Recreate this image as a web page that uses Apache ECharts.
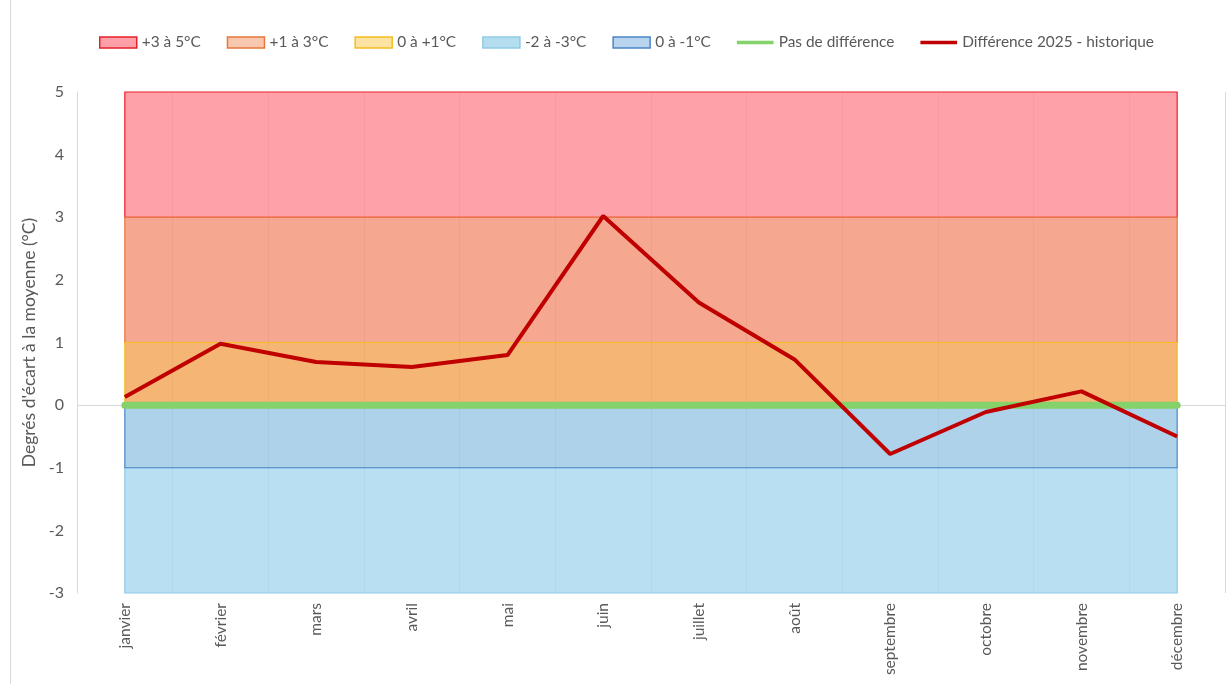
<!DOCTYPE html>
<html>
<head>
<meta charset="utf-8">
<script src="https://cdn.jsdelivr.net/npm/echarts@6/dist/echarts.min.js"></script>
<style>
  html, body { margin: 0; padding: 0; background: #fff; }
  #chart { width: 1231px; height: 684px; }
</style>
</head>
<body>
<div id="chart"></div>
<script>
var months = ["janvier", "février", "mars", "avril", "mai", "juin", "juillet", "août", "septembre", "octobre", "novembre", "décembre"];
var diff2025 = [0.13, 0.98, 0.69, 0.61, 0.8, 3.02, 1.64, 0.73, -0.78, -0.11, 0.22, -0.5];
var noDiff = [0, 0, 0, 0, 0, 0, 0, 0, 0, 0, 0, 0];

// bands (drawn in this order)
var bandNames = ["+3 à 5°C", "+1 à 3°C", "0 à +1°C", "-2 à -3°C", "0 à -1°C"];
var bandLow = [3, 1, 0, -3, -1];
var bandHigh = [5, 3, 1, -1, 0];

var yMin = -3, yMax = 5, yStep = 1;

(function () {
  var chart = echarts.init(document.getElementById("chart"));
  var font = "Lato, 'Open Sans', sans-serif";
  var grey = "#595959";

  var bandFill = ["rgba(255,138,146,0.8)", "rgba(242,145,115,0.8)", "rgba(241,163,82,0.8)", "rgba(166,216,239,0.8)", "rgba(154,199,229,0.8)"];
  var bandBorder = ["#e8202a", "#e8773a", "#f5bd1f", "#8fcbe6", "#4a86c8"];
  var legendFill = ["#ffa0a8", "#f7c7af", "#fde3a1", "#b4def0", "#b9d4ef"];
  // thin bar centred in the legend box (tiny corner marks keep the box size)
  var lineIcon = "path://M0,0h40v0.01h-40z M0,4h40v4h-40z M0,11.99h40v0.01h-40z";

  var series = bandNames.map(function (name, i) {
    var s = {
      name: name,
      type: "line",
      data: [],
      symbol: "none",
      silent: true,
      z: 1,
      itemStyle: { color: legendFill[i] },
      markArea: {
        silent: true,
        itemStyle: { color: bandFill[i], borderColor: bandBorder[i], borderWidth: 1.2 },
        data: [[{ xAxis: months[0], yAxis: bandLow[i] }, { xAxis: months[months.length - 1], yAxis: bandHigh[i] }]]
      }
    };
    if (i === 0) {
      s.markLine = {
        silent: true, symbol: "none", label: { show: false },
        lineStyle: { color: "#d9d9d9", width: 1, type: "solid" },
        data: [{ yAxis: 0 }]
      };
    }
    return s;
  });

  series.push({
    name: "Pas de différence",
    type: "line",
    data: noDiff,
    symbol: "none",
    z: 5,
    itemStyle: { color: "#84d26a" },
    lineStyle: { color: "#84d26a", width: 7, cap: "round" }
  });
  series.push({
    name: "Différence 2025 - historique",
    type: "line",
    data: diff2025,
    symbol: "none",
    z: 6,
    itemStyle: { color: "#c00000" },
    lineStyle: { color: "#c00000", width: 4 }
  });

  var legendData = bandNames.map(function (name, i) {
    return { name: name, icon: "rect", itemStyle: { color: legendFill[i], borderColor: bandBorder[i], borderWidth: 1.5 } };
  });
  legendData.push({ name: "Pas de différence", icon: lineIcon, itemStyle: { color: "#84d26a", borderWidth: 0 } });
  legendData.push({ name: "Différence 2025 - historique", icon: lineIcon, itemStyle: { color: "#c00000", borderWidth: 0 } });

  chart.setOption({
    animation: false,
    textStyle: { fontFamily: font },
    tooltip: { trigger: "axis" },
    legend: {
      data: legendData,
      top: 30,
      left: 94,
      itemWidth: 37,
      itemHeight: 11,
      itemGap: 26,
      textStyle: { color: grey, fontSize: 15.4, fontFamily: font }
    },
    grid: { left: 77, right: 6, top: 92, bottom: 91 },
    xAxis: {
      type: "category",
      data: months,
      boundaryGap: true,
      axisLine: { show: false, onZero: false },
      axisTick: { show: false },
      splitLine: { show: true, interval: 0, lineStyle: { color: "#d9d9d9", width: 1 } },
      axisLabel: { rotate: 90, interval: 0, margin: 10, color: grey, fontSize: 15.5, fontFamily: font }
    },
    yAxis: {
      type: "value",
      min: yMin,
      max: yMax,
      interval: yStep,
      name: "Degrés d'écart à la moyenne (°C)",
      nameLocation: "middle",
      nameGap: 33,
      nameTextStyle: { color: grey, fontSize: 17.5, fontFamily: font },
      axisLine: { show: true, lineStyle: { color: "#d9d9d9" } },
      axisTick: { show: false },
      splitLine: { show: false },
      axisLabel: { color: grey, fontSize: 16, margin: 13, fontFamily: font }
    },
    graphic: [{
      type: "line", silent: true,
      shape: { x1: 10.5, y1: 0, x2: 10.5, y2: 684 },
      style: { stroke: "#d9d9d9", lineWidth: 1 }
    }],
    series: series
  });

  window.addEventListener("resize", function () { chart.resize(); });
})();
</script>
</body>
</html>
